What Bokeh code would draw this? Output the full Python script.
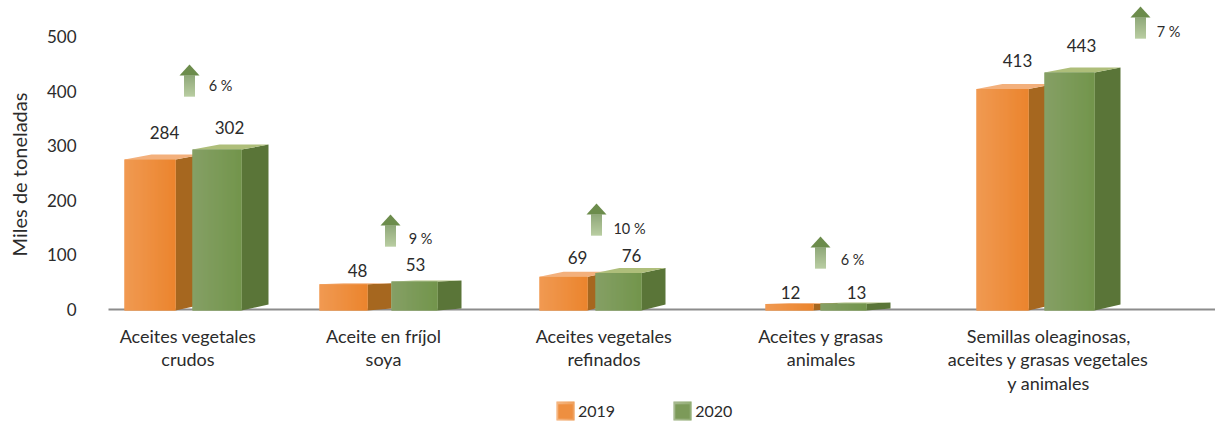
from bokeh.plotting import figure
from bokeh.models import FixedTicker, Range1d, Legend, LegendItem
from bokeh.embed import file_html
from bokeh.resources import INLINE
from bokeh.core.properties import value
import math

# ---- data
categories = ["Aceites vegetales\ncrudos", "Aceite en fríjol\nsoya", "Aceites vegetales\nrefinados",
              "Aceites y grasas\nanimales", "Semillas oleaginosas,\naceites y grasas vegetales\ny animales"]
values_2019 = [284, 48, 69, 12, 413]
values_2020 = [302, 53, 76, 13, 443]
growth_labels = ["6 %", "9 %", "10 %", "6 %", "7 %"]
y_ticks = [0, 100, 200, 300, 400, 500]

# ---- layout (x in page pixels, y helpers convert page pixels into axis units)
PX_PER_UNIT = 0.546
BASE_PX = 309.0
def yv(ypx):
    return (BASE_PX - ypx) / PX_PER_UNIT

left_2019 = [124, 319, 539, 765, 976]
right_2019 = [175, 367, 587, 813, 1028]
left_2020 = [192, 391, 595, 820, 1044]
right_2020 = [241, 437, 641, 866, 1094]
depth_x = [27, 24, 24, 24, 26]
depth_y = [5, 1, 5, 1, 5]
tick_x = [187.5, 383, 603.5, 820.5, 1048]
label_x_2019 = [164, 357, 577, 790, 1017]
label_y_2019 = [132, 270, 257, 292, 60]
label_x_2020 = [229, 415, 631, 856, 1081]
label_y_2020 = [127, 264, 255, 292, 45]
arrow_x = [189, 390, 596, 820, 1140]
arrow_tip_y = [64, 214, 203, 236, 6]
growth_x = [220, 420, 629, 852, 1168]
growth_y = [85, 238, 228, 259, 31]

TEXT = "#2b2b2b"
FONT = "Lato"
ORANGE = ((241, 157, 88), (234, 129, 40)); ORANGE_SIDE = "#a6671f"; ORANGE_TOP = "#f3b07c"
GREEN = ((136, 161, 106), (112, 147, 72)); GREEN_SIDE = "#5a7538"; GREEN_TOP = "#aebe7a"

def lerp(c, t):
    return "#%02x%02x%02x" % tuple(round(a + (b - a) * t) for a, b in zip(*c))

p = figure(width=1215, height=422, output_backend="svg", toolbar_location=None,
           x_range=Range1d(0, 1215), y_range=Range1d(yv(422), yv(0)),
           min_border=0, outline_line_color=None, background_fill_color="white")
p.grid.visible = False

# axes
ya = p.yaxis[0]
ya.fixed_location = 108
ya.ticker = FixedTicker(ticks=y_ticks)
ya.axis_line_color = None
ya.major_tick_line_color = None
ya.minor_tick_line_color = None
ya.major_label_standoff = 26
ya.major_label_text_font = FONT
ya.major_label_text_font_size = "17px"
ya.major_label_text_color = TEXT

p.text([18], [yv(174)], text=["Miles de toneladas"], angle=math.pi / 2, text_align="center",
       text_baseline="middle", text_font=value(FONT), text_font_size=value("20px"), text_color=TEXT)

xa = p.xaxis[0]
xa.fixed_location = 0
xa.bounds = (108, 1215)
xa.ticker = FixedTicker(ticks=[])
xa.axis_line_color = "#8c8c8c"
xa.axis_line_width = 2
xa.major_tick_line_color = None
xa.minor_tick_line_color = None
xa.level = "underlay"

p.text(tick_x, [yv(324)] * len(tick_x), text=categories, text_font=value(FONT), text_font_size=value("18px"),
       text_color=TEXT, text_align="center", text_baseline="top", text_line_height=1.08)

def draw_bars(vals, lefts, rights, grad, side, top):
    xs_side, ys_side, xs_top, ys_top = [], [], [], []
    for v, l, r, dx, dy in zip(vals, lefts, rights, depth_x, depth_y):
        back = yv(BASE_PX - v * PX_PER_UNIT)
        front = yv(BASE_PX - v * PX_PER_UNIT + dy)
        base = yv(BASE_PX + 1)
        base_back = yv(BASE_PX + 1 - dy - 1)
        xs_side.append([r, r + dx, r + dx, r]); ys_side.append([base, base_back, back, front])
        xs_top.append([l, l + dx, r + dx, r]); ys_top.append([front, back, back, front])
    p.patches(xs_side, ys_side, fill_color=side, line_color=None)
    p.patches(xs_top, ys_top, fill_color=top, line_color=None)
    solid = p.quad(left=lefts, right=rights, bottom=yv(BASE_PX + 1),
                   top=[yv(BASE_PX - v * PX_PER_UNIT + d) for v, d in zip(vals, depth_y)],
                   fill_color=lerp(grad, 0.5), line_color=None)
    sl, sr, st, sc = [], [], [], []
    for v, l, r, d in zip(vals, lefts, rights, depth_y):
        n = r - l
        for i in range(n):
            sl.append(l + i); sr.append(l + i + 1)
            st.append(yv(BASE_PX - v * PX_PER_UNIT + d)); sc.append(lerp(grad, i / (n - 1)))
    p.quad(left=sl, right=sr, bottom=yv(BASE_PX + 1), top=st, fill_color=sc, line_color=None)
    return solid

r_2019 = draw_bars(values_2019, left_2019, right_2019, ORANGE, ORANGE_SIDE, ORANGE_TOP)
r_2020 = draw_bars(values_2020, left_2020, right_2020, GREEN, GREEN_SIDE, GREEN_TOP)

def labels(xs, ys, txt, size):
    p.text(xs, ys, text=txt, text_font=value(FONT), text_font_size=value(size), text_color=TEXT,
           text_align="center", text_baseline="middle")

labels(label_x_2019, [yv(y) for y in label_y_2019], [str(v) for v in values_2019], "17px")
labels(label_x_2020, [yv(y) for y in label_y_2020], [str(v) for v in values_2020], "17px")
labels(growth_x, [yv(y) for y in growth_y], growth_labels, "14.5px")

# growth arrows
ARROW_TOP = (108, 140, 78); ARROW_BOTTOM = (160, 187, 130)
p.patches([[x - 10, x, x + 10] for x in arrow_x],
          [[yv(y + 11), yv(y), yv(y + 11)] for y in arrow_tip_y],
          fill_color="#6c8c4c", line_color=None)
m = 21
al, ar, at, ab, ac = [], [], [], [], []
for x, y in zip(arrow_x, arrow_tip_y):
    for i in range(m):
        al.append(x - 5.5); ar.append(x + 5.5)
        at.append(yv(y + 11 + i)); ab.append(yv(y + 12 + i))
        ac.append(lerp((ARROW_TOP, ARROW_BOTTOM), i / (m - 1)))
p.quad(left=al, right=ar, top=at, bottom=ab, fill_color=ac, line_color=None)

# legend
legend = Legend(items=[LegendItem(label="2019", renderers=[r_2019]), LegendItem(label="2020", renderers=[r_2020])],
                orientation="horizontal", location=(556, 2), padding=0, margin=0, spacing=58,
                glyph_width=18, glyph_height=18, label_height=18, label_standoff=4,
                label_text_font=FONT, label_text_font_size="16px", label_text_color=TEXT,
                border_line_color=None, background_fill_alpha=0)
p.add_layout(legend)
for sx, grad in ((556, ORANGE), (673, GREEN)):
    n = 18
    p.quad(left=[sx + i for i in range(n)], right=[sx + i + 1 for i in range(n)],
           top=yv(401), bottom=yv(420), fill_color=[lerp(grad, i / (n - 1)) for i in range(n)],
           line_color=None, level="overlay")

open("out.html", "w").write(file_html(p, INLINE))
